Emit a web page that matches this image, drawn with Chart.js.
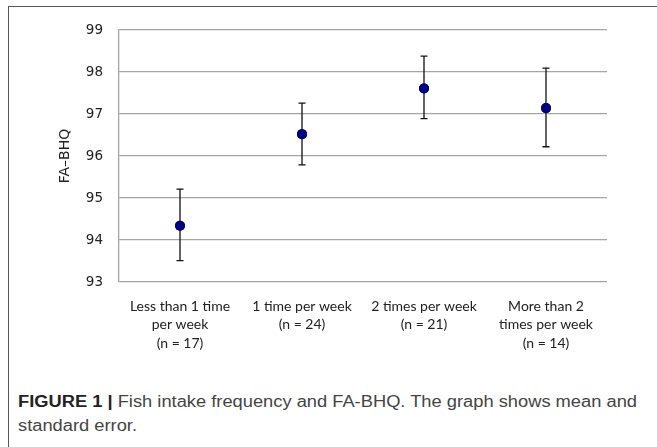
<!DOCTYPE html>
<html>
<head>
<meta charset="utf-8">
<script src="https://cdn.jsdelivr.net/npm/chart.js@4"></script>
<style>
  html, body { margin: 0; padding: 0; background: #fff; }
  body { width: 657px; height: 447px; position: relative; overflow: hidden; }
  #frame { position: absolute; left: 8px; top: 6px; width: 700px; height: 500px;
           border-left: 1.5px solid #555; border-top: 1.5px solid #555; }
  #wrap { position: absolute; left: 0; top: 0; width: 657px; height: 380px; }
  #caption { position: absolute; left: 18px; top: 390px; white-space: nowrap;
             font-family: "Liberation Sans", Arial, sans-serif; font-size: 16px;
             line-height: 24px; color: #444; transform-origin: 0 0; }
  #caption b { color: #222; }
</style>
</head>
<body>
<div id="frame"></div>
<div id="wrap"><canvas id="grafico"></canvas></div>
<div id="caption"><span id="linha1"><b>FIGURE 1 |</b> Fish intake frequency and FA-BHQ. The graph shows mean and</span><br>standard error.</div>
<script>
const categorias = [
  ["Less than 1 time", "per week", "(n = 17)"],
  ["1 time per week", "(n = 24)"],
  ["2 times per week", "(n = 21)"],
  ["More than 2", "times per week", "(n = 14)"]
];
const medias = [94.34, 96.52, 97.61, 97.14];
const erroSuperior = [95.21, 97.26, 98.38, 98.09];
const erroInferior = [93.51, 95.79, 96.89, 96.22];
const ticksY = [93, 94, 95, 96, 97, 98, 99];

// the caption in the figure is set a little wide; stretch it to the same length
const linha1 = document.getElementById("linha1");
const larg = linha1.getBoundingClientRect().width;
document.getElementById("caption").style.transform = "scaleX(" + (619 / larg) + ")";

const barrasDeErro = {
  id: "barrasDeErro",
  afterDatasetsDraw(chart) {
    const ctx = chart.ctx;
    const x = chart.scales.x;
    const y = chart.scales.y;
    ctx.save();
    ctx.strokeStyle = "#111";
    ctx.lineWidth = 1.3;
    medias.forEach((m, i) => {
      const px = x.getPixelForValue(i);
      const top = y.getPixelForValue(erroSuperior[i]);
      const bot = y.getPixelForValue(erroInferior[i]);
      ctx.beginPath();
      ctx.moveTo(px, top); ctx.lineTo(px, bot);
      ctx.moveTo(px - 3.5, top); ctx.lineTo(px + 3.5, top);
      ctx.moveTo(px - 3.5, bot); ctx.lineTo(px + 3.5, bot);
      ctx.stroke();
    });
    ctx.restore();
    // points go on top of the bars
    chart.getDatasetMeta(0).data.forEach((p) => p.draw(ctx));
  }
};

new Chart(document.getElementById("grafico"), {
  type: "line",
  data: {
    labels: categorias,
    datasets: [{
      data: medias,
      showLine: false,
      pointRadius: 5,
      pointBackgroundColor: "#000080",
      pointBorderColor: "#000080",
      pointBorderWidth: 0
    }]
  },
  options: {
    responsive: true,
    maintainAspectRatio: false,
    animation: false,
    layout: { padding: { top: 30, right: 50, left: 0, bottom: 0 } },
    plugins: { legend: { display: false }, tooltip: { enabled: false } },
    scales: {
      x: {
        offset: true,
        grid: { display: false, drawTicks: false },
        border: { display: false },
        ticks: {
          color: "#222",
          padding: 15,
          maxRotation: 0,
          autoSkip: false,
          font: { family: "Lato, 'Open Sans', sans-serif", size: 14, lineHeight: 1.32 }
        },
        afterFit(scale) { scale.height = 98; }
      },
      y: {
        min: 93,
        max: 99,
        afterBuildTicks(scale) { scale.ticks = ticksY.map((v) => ({ value: v })); },
        grid: { color: "#a6a6a6", lineWidth: 1.3, drawTicks: false },
        border: { color: "#a6a6a6", width: 1.3 },
        ticks: {
          color: "#222",
          padding: 16,
          font: { family: "DejaVu Sans", size: 13.5 }
        },
        title: {
          display: true,
          text: "FA\u2013BHQ",
          color: "#222",
          font: { family: "DejaVu Sans", size: 14 },
          padding: { top: 57, bottom: 0 }
        },
        afterFit(scale) { scale.width = 119; }
      }
    }
  },
  plugins: [barrasDeErro]
});
</script>
</body>
</html>
